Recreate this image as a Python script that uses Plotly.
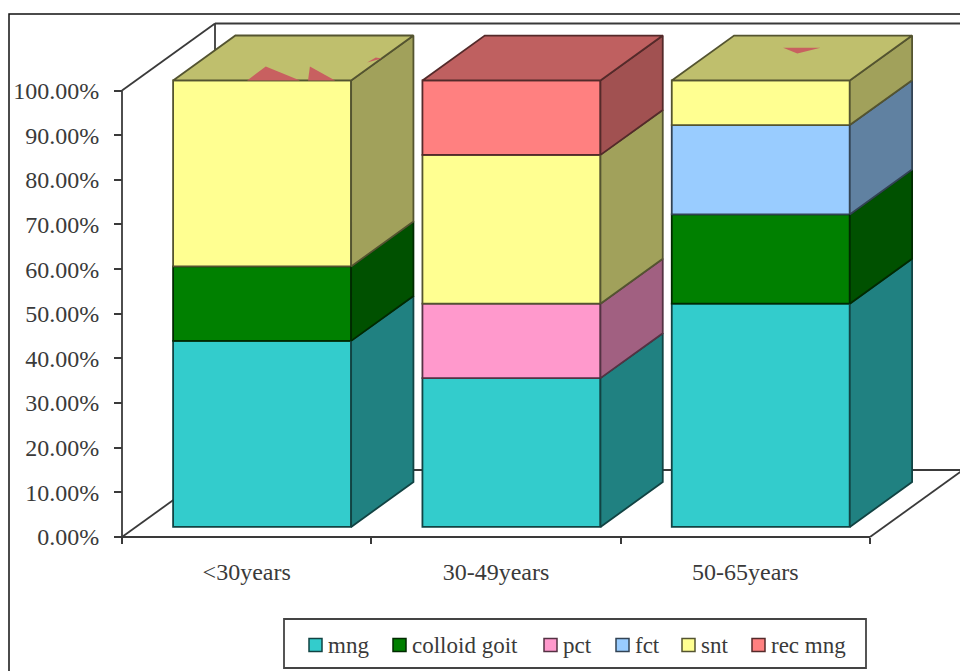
import plotly.graph_objects as go

# Share of each diagnosis per age group (percent)
categories = ["<30years", "30-49years", "50-65years"]
series_names = ["mng", "colloid goit", "pct", "fct", "snt", "rec mng"]
mng = [41.67, 33.33, 50.0]
colloid_goit = [16.67, 0, 20.0]
pct = [0, 16.67, 0]
fct = [0, 0, 20.0]
snt = [41.67, 33.33, 10.0]
rec_mng = [0, 16.67, 0]
series_values = [mng, colloid_goit, pct, fct, snt, rec_mng]
series_rgb = [(51, 204, 204), (0, 128, 0), (255, 153, 204),
              (153, 204, 255), (255, 255, 145), (255, 128, 128)]
y_ticks = list(range(0, 101, 10))
y_tick_labels = [f"{v}.00%" for v in y_ticks]

W, H = 960, 671
FONT = "Liberation Serif"
INK = "#3a3a3a"
X0_PX, Y0_PX = 122, 537          # screen position of the axes origin
PX_PER_CAT, PX_PER_PCT = 249.33, 4.465
DEPTH_X, DEPTH_Y = 93 / PX_PER_CAT, 67 / PX_PER_PCT   # full floor depth in axis units
BAR_FRONT, BAR_BACK = 0.15, 0.82  # where the columns sit along the depth
BAR_WIDTH = 0.714
SLOT_CENTRE = 0.506


def shade(rgb, k):
    return "rgb({},{},{})".format(*(round(c * k) for c in rgb))


def project(x, y, depth):
    """Oblique projection of (category, percent, depth) onto the flat axes."""
    return x + depth * DEPTH_X, y + depth * DEPTH_Y


def px(x):
    return x / W


def py(y):
    return 1 - y / H


fig = go.Figure()

# Front faces of the stacked columns
cumulative = [0.0] * len(categories)
segments = []
for name, values, rgb in zip(series_names, series_values, series_rgb):
    idx = [i for i, v in enumerate(values) if v > 0]
    bases = [cumulative[i] for i in idx]
    if idx:
        fig.add_bar(
            x=[project(i + SLOT_CENTRE, 0, BAR_FRONT)[0] for i in idx],
            y=[values[i] for i in idx],
            base=[b + BAR_FRONT * DEPTH_Y for b in bases],
            width=BAR_WIDTH,
            name=name,
            marker=dict(color=shade(rgb, 1), line=dict(color=shade(rgb, 0.33), width=1.8)),
            showlegend=False,
            hoverinfo="skip",
        )
    for i, b in zip(idx, bases):
        segments.append((i, b, b + values[i], rgb))
        cumulative[i] += values[i]


def add_face(corners, fill, line):
    pts = [project(*c) for c in corners]
    pts.append(pts[0])
    fig.add_scatter(
        x=[p[0] for p in pts], y=[p[1] for p in pts], mode="lines",
        fill="toself", fillcolor=fill,
        line=dict(color=line, width=1.8),
        showlegend=False, hoverinfo="skip",
    )


# Side face of every segment, top face of every column
for i, lo, hi, rgb in segments:
    right = i + SLOT_CENTRE + BAR_WIDTH / 2
    add_face([(right, lo, BAR_FRONT), (right, hi, BAR_FRONT),
              (right, hi, BAR_BACK), (right, lo, BAR_BACK)],
             shade(rgb, 0.63), shade(rgb, 0.33))
for i in range(len(categories)):
    top = [s for s in segments if s[0] == i][-1]
    left, right = i + SLOT_CENTRE - BAR_WIDTH / 2, i + SLOT_CENTRE + BAR_WIDTH / 2
    add_face([(left, top[2], BAR_FRONT), (right, top[2], BAR_FRONT),
              (right, top[2], BAR_BACK), (left, top[2], BAR_BACK)],
             shade(top[3], 0.75), shade(top[3], 0.33))

# Bits of the empty rec mng layer showing through the column tops,
# given as (column, across, along depth) fractions of the top face
top_flecks = [
    [(0, 0.416, 0.0), (0, 0.412, 0.31), (0, 0.713, 0.0)],
    [(0, 0.758, 0.0), (0, 0.66, 0.31), (0, 0.91, 0.0)],
    [(0, 0.95, 0.40), (0, 0.96, 0.51), (0, 1.0, 0.49)],
    [(2, 0.37, 0.73), (2, 0.58, 0.73), (2, 0.495, 0.60)],
]
for fleck in top_flecks:
    corners = []
    for col, u, v in fleck:
        corners.append((col + SLOT_CENTRE - BAR_WIDTH / 2 + u * BAR_WIDTH, 100,
                        BAR_FRONT + v * (BAR_BACK - BAR_FRONT)))
    add_face(corners, "rgb(200,96,96)", "rgba(200,96,96,0)")

# Walls and floor outline, behind the columns
n = len(categories)
wall_lines = [
    ((0, 0, 0), (0, 100, 0)),
    ((0, 0, 0), (n, 0, 0)),
    ((0, 0, 0), (0, 0, 1)),
    ((0, 100, 0), (0, 100, 1)),
    ((0, 0, 1), (0, 100, 1)),
    ((0, 100, 1), (n, 100, 1)),
    ((0, 0, 1), (n, 0, 1)),
    ((n, 0, 0), (n, 0, 1)),
    ((n, 0, 1), (n, 100, 1)),
]
shapes = []
for a, b in wall_lines:
    (xa, ya), (xb, yb) = project(*a), project(*b)
    shapes.append(dict(type="line", xref="x", yref="y", layer="below",
                       x0=xa, y0=ya, x1=xb, y1=yb,
                       line=dict(color=INK, width=1.8)))

# Chart frame and legend box
shapes.append(dict(type="rect", xref="paper", yref="paper", layer="below",
                   x0=px(9), x1=px(990), y0=py(14), y1=py(700),
                   line=dict(color="#111111", width=1.5)))
shapes.append(dict(type="rect", xref="paper", yref="paper",
                   x0=px(284), x1=px(866), y0=py(619), y1=py(668),
                   fillcolor="white", line=dict(color="#444444", width=1.8)))

# Legend entries
legend_key_left = [309, 393, 544, 616, 682, 752]
KEY_SIZE, LEGEND_Y = 13, 645
annotations = []
for name, rgb, kx in zip(series_names, series_rgb, legend_key_left):
    shapes.append(dict(type="rect", xref="paper", yref="paper",
                       x0=px(kx), x1=px(kx + KEY_SIZE),
                       y0=py(LEGEND_Y - KEY_SIZE / 2), y1=py(LEGEND_Y + KEY_SIZE / 2),
                       fillcolor=shade(rgb, 1), line=dict(color=shade(rgb, 0.33), width=1.5)))
    annotations.append(dict(xref="paper", yref="paper", x=px(kx + KEY_SIZE + 4), y=py(LEGEND_Y),
                            text=name, showarrow=False, xanchor="left", yanchor="middle",
                            font=dict(family=FONT, size=23, color=INK)))

fig.update_layout(
    width=W, height=H, margin=dict(l=0, r=0, t=0, b=0, autoexpand=False),
    barmode="overlay", paper_bgcolor="white", plot_bgcolor="white",
    shapes=shapes, annotations=annotations, showlegend=False,
    xaxis=dict(
        domain=[px(110), 1],
        range=[(110 - X0_PX) / PX_PER_CAT, (W - X0_PX) / PX_PER_CAT],
        anchor="free", position=py(Y0_PX),
        tickmode="array", tickvals=[i + 0.5 for i in range(n)], ticktext=categories,
        ticks="", ticklabelstandoff=18, showgrid=False, zeroline=False, showline=False,
        tickfont=dict(family=FONT, size=24, color=INK),
        minor=dict(tickmode="array", tickvals=list(range(n + 1)), ticks="outside",
                   ticklen=6, tickwidth=1.8, tickcolor=INK, showgrid=False),
    ),
    yaxis=dict(
        domain=[py(548), py(14)],
        range=[(Y0_PX - 548) / PX_PER_PCT, (Y0_PX - 14) / PX_PER_PCT],
        anchor="free", position=px(X0_PX),
        tickmode="array", tickvals=y_ticks, ticktext=y_tick_labels,
        ticks="outside", ticklen=8, tickwidth=1.8, tickcolor=INK,
        ticklabelstandoff=10, showgrid=False, zeroline=False, showline=False,
        tickfont=dict(family=FONT, size=24, color=INK),
    ),
)

fig.write_html("out.html")
